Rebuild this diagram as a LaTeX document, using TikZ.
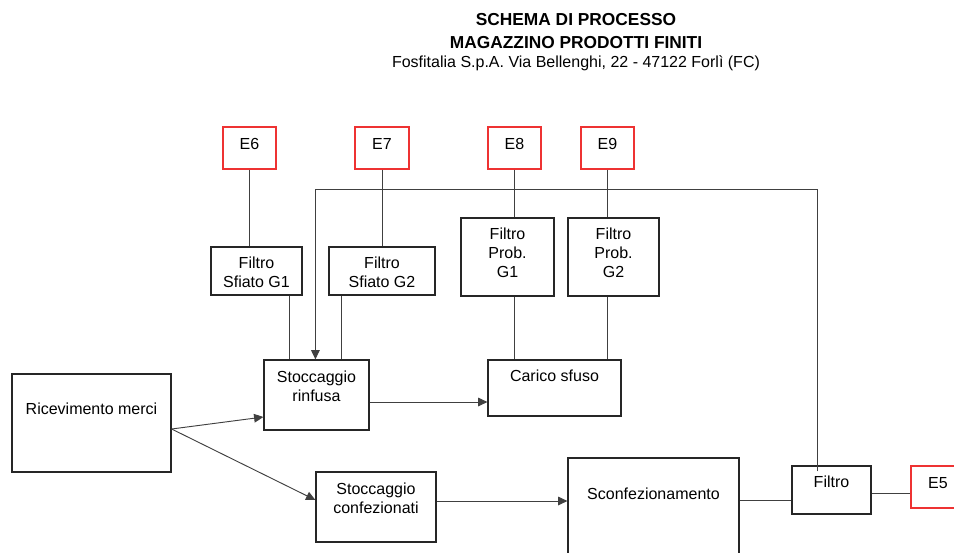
\documentclass[tikz,border=0pt]{standalone}
\usepackage{fontspec}
\setmainfont{Liberation Sans}
\usetikzlibrary{arrows.meta,fit}
\definecolor{ered}{RGB}{238,50,50}

\begin{document}
\begin{tikzpicture}[x=0.75pt, y=-0.75pt,
    box/.style={draw=black!85, line width=0.9pt, inner sep=0pt},
    ebox/.style={box, draw=ered},
    txt/.style={align=center, anchor=north, inner sep=0pt, font=\fontsize{12}{14.5}\selectfont},
    flow/.style={draw=black!75, line width=0.7pt},
    arr/.style={flow, -{Triangle[length=7pt,width=6.5pt]}}]
    \useasboundingbox (0,0) rectangle (954,553);
    \clip (0,0) rectangle (954,553);

    % titolo
    \node[anchor=base, font=\fontsize{13}{15}\selectfont\bfseries] (tit1) at (576,26) {SCHEMA DI PROCESSO};
    \node[anchor=base, font=\fontsize{13}{15}\selectfont\bfseries] (tit2) at (576,48) {MAGAZZINO PRODOTTI FINITI};
    \node[anchor=base, font=\fontsize{12}{14}\selectfont] (tit3) at (576,67) {Fosfitalia S.p.A. Via Bellenghi, 22 - 47122 Forlì (FC)};

    % emissioni
    \node[ebox, fit={(223,127) (276,169)}] (e6) {};
    \node[ebox, fit={(355,127) (409,169)}] (e7) {};
    \node[ebox, fit={(488,127) (541,169)}] (e8) {};
    \node[ebox, fit={(581,127) (634,169)}] (e9) {};
    \node[ebox, fit={(911,466) (965,508)}] (e5) {};
    \node[txt] (e6-t) at ([shift={(0,12)}]e6.north) {E6};
    \node[txt] (e7-t) at ([shift={(0,12)}]e7.north) {E7};
    \node[txt] (e8-t) at ([shift={(0,12)}]e8.north) {E8};
    \node[txt] (e9-t) at ([shift={(0,12)}]e9.north) {E9};
    \node[txt] (e5-t) at ([shift={(0,12)}]e5.north) {E5};

    % filtri
    \node[box, fit={(211,247) (302,295)}] (fsg1) {};
    \node[box, fit={(329,247) (435,295)}] (fsg2) {};
    \node[box, fit={(461,218) (554,296)}] (fpg1) {};
    \node[box, fit={(568,218) (659,296)}] (fpg2) {};
    \node[box, fit={(792,466) (871,514)}] (filtro) {};
    \node[txt] (fsg1-t) at ([shift={(0,10)}]fsg1.north) {Filtro\\Sfiato G1};
    \node[txt] (fsg2-t) at ([shift={(0,10)}]fsg2.north) {Filtro\\Sfiato G2};
    \node[txt] (fpg1-t) at ([shift={(0,10)}]fpg1.north) {Filtro\\Prob.\\G1};
    \node[txt] (fpg2-t) at ([shift={(0,10)}]fpg2.north) {Filtro\\Prob.\\G2};
    \node[txt] (filtro-t) at ([shift={(0,10)}]filtro.north) {Filtro};

    % fasi
    \node[box, fit={(12,374) (171,472)}] (ric) {};
    \node[box, fit={(264,360) (369,430)}] (rinf) {};
    \node[box, fit={(316,472) (436,542)}] (conf) {};
    \node[box, fit={(488,360) (621,416)}] (carico) {};
    \node[box, fit={(568,458) (739,600)}] (scon) {};
    \node[txt] (ric-t) at ([shift={(0,29)}]ric.north) {Ricevimento merci};
    \node[txt] (rinf-t) at ([shift={(0,11)}]rinf.north) {Stoccaggio\\rinfusa};
    \node[txt] (conf-t) at ([shift={(0,11)}]conf.north) {Stoccaggio\\confezionati};
    \node[txt] (carico-t) at ([shift={(0,10)}]carico.north) {Carico sfuso};
    \node[txt] (scon-t) at ([shift={(0,30)}]scon.north) {Sconfezionamento};

    % punti di attacco
    \coordinate (s1) at ([shift={(26,0)}]rinf.north west);
    \coordinate (s2) at ([shift={(78,0)}]rinf.north west);
    \coordinate (s3) at ([shift={(52,0)}]rinf.north west);
    \coordinate (f1) at ([shift={(26,6)}]filtro.north west);
    \coordinate (r0) at ([shift={(0,6)}]ric.east);

    % collegamenti
    \draw[flow] (e6.south) -- (e6.south |- fsg1.north);
    \draw[flow] (e7.south) -- (e7.south |- fsg2.north);
    \draw[flow] (e8.south) -- (e8.south |- fpg1.north);
    \draw[flow] (e9.south) -- (e9.south |- fpg2.north);
    \draw[flow] (fsg1.south -| s1) -- (s1);
    \draw[flow] (fsg2.south -| s2) -- (s2);
    \draw[flow] (e8.south |- fpg1.south) -- (e8.south |- carico.north);
    \draw[flow] (e9.south |- fpg2.south) -- (e9.south |- carico.north);
    \draw[arr] (f1) -- ++(0,-282) -| (s3);
    \draw[arr] ([shift={(0,7)}]rinf.east) -- ([shift={(0,7)}]rinf.east -| carico.west);
    \draw[arr] (r0) -- ([shift={(0,22)}]rinf.west);
    \draw[arr] (r0) -- ([shift={(0,-7)}]conf.west);
    \draw[arr] ([shift={(0,-6)}]conf.east) -- ([shift={(0,-6)}]conf.east -| scon.west);
    \draw[flow] ([shift={(0,10)}]filtro.west) -- ([shift={(0,10)}]filtro.west -| scon.east);
    \draw[flow] ([shift={(0,3)}]filtro.east) -- ([shift={(0,3)}]filtro.east -| e5.west);
\end{tikzpicture}
\end{document}
